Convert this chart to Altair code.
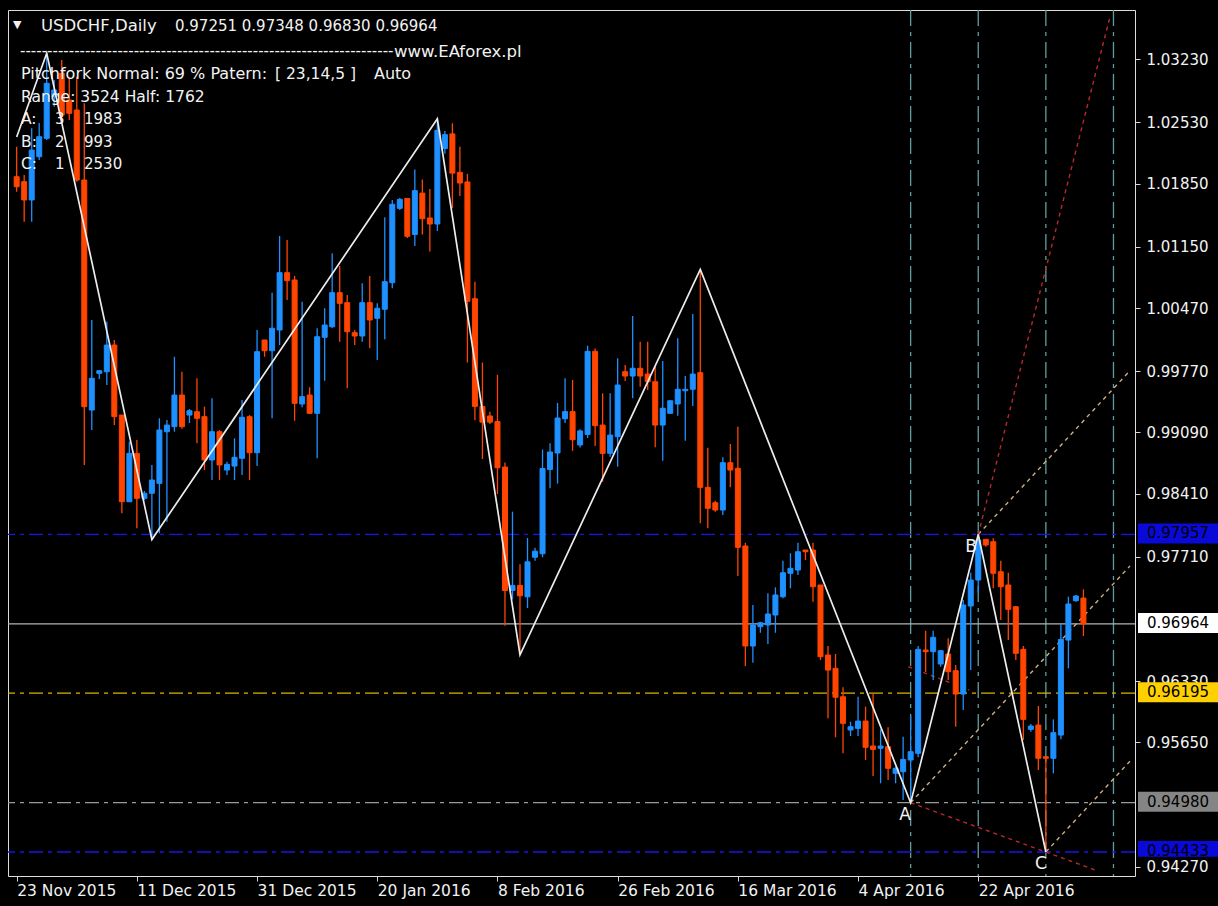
import altair as alt
import pandas as pd

# ---------------- data ----------------
opens = [1.01927,1.01872,1.01669,1.02149,1.02353,1.02815,1.03075,1.02778,1.02667,1.01890,
         0.99338,0.99745,0.99763,1.00059,0.99282,0.98320,0.98857,0.98358,0.98414,0.98524,
         0.99097,0.99153,0.99504,0.99282,0.99319,0.99264,0.98783,0.99097,0.98672,0.98716,
         0.98802,0.99264,0.98864,1.00115,0.99996,1.00226,1.00862,1.00781,0.99405,0.99504,
         0.99301,1.00145,1.00262,1.00640,1.00529,1.00196,1.00159,1.00529,1.00356,1.00456,
         1.00751,1.01576,1.01686,1.01286,1.01745,1.01469,1.01402,1.02239,1.02402,1.01975,
         1.01869,1.00573,0.99378,0.99272,0.99210,0.98705,0.97335,0.97392,0.97265,0.97704,
         0.97743,0.98678,0.98861,0.99241,0.99320,0.98950,0.99067,0.99989,0.99171,0.98857,
         0.99042,0.99763,0.99715,0.99801,0.99737,0.99652,0.99171,0.99301,0.99405,0.99552,
         0.99568,0.99752,0.98480,0.98309,0.98228,0.98753,0.98691,0.97829,0.96719,0.96933,
         0.96952,0.97063,0.97266,0.97526,0.97562,0.97784,0.97784,0.97396,0.96619,0.96471,
         0.96156,0.95787,0.95805,0.95886,0.95609,0.95584,0.95601,0.95306,0.95324,0.95454,
         0.95528,0.96674,0.96656,0.96519,0.96630,0.96445,0.96186,0.97163,0.97451,0.97903,
         0.97876,0.97543,0.97396,0.97155,0.96682,0.95794,0.95842,0.95490,0.95473,0.95731,
         0.96785,0.97222,0.97251]
highs = [1.02260,1.01946,1.02464,1.02523,1.03297,1.03000,1.03222,1.03037,1.03037,1.02742,
         1.00337,0.99782,1.00318,1.00115,0.99282,0.98986,0.99005,0.98439,0.98728,0.99246,
         0.99227,0.99929,0.99763,0.99349,0.99690,0.99375,0.99468,0.99116,0.98764,0.99024,
         0.99449,0.99282,1.00226,1.00115,1.00640,1.01269,1.01225,1.00825,1.00540,0.99590,
         1.00245,1.00467,1.01077,1.00936,1.00614,1.00226,1.00744,1.00825,1.00522,1.01477,
         1.01669,1.01691,1.01686,1.02006,1.01897,1.01792,1.02570,1.02434,1.02520,1.02259,
         1.01959,1.00760,0.99865,0.99320,0.99729,0.98755,0.98210,0.97627,0.97918,0.97810,
         0.98900,0.98970,0.99417,0.99690,0.99671,0.99125,1.00052,1.00020,0.99523,0.99523,
         0.99912,0.99837,1.00381,1.00096,1.00096,0.99818,0.99882,0.99441,1.00134,0.99715,
         1.00403,1.00899,0.98920,0.98331,0.98813,0.98961,0.99153,0.97865,0.97174,0.96988,
         0.97304,0.97370,0.97665,0.97748,0.97865,0.97784,0.97865,0.97396,0.96719,0.96630,
         0.96260,0.95879,0.96156,0.96045,0.96201,0.95794,0.95817,0.95379,0.95712,0.95942,
         0.96719,0.96889,0.96889,0.96674,0.96804,0.96508,0.97229,0.97532,0.97957,0.97903,
         0.97914,0.97665,0.97532,0.97163,0.96719,0.95853,0.96053,0.95490,0.95905,0.96963,
         0.97266,0.97285,0.97348]
lows = [1.01761,1.01428,1.01428,1.02112,1.02334,1.02704,1.02520,1.02556,1.01872,0.98728,
        0.99116,0.99682,0.99615,0.99171,0.98192,0.98320,0.98025,0.98339,0.97900,0.97970,
        0.98098,0.99097,0.99130,0.99194,0.98968,0.98672,0.98561,0.98561,0.98617,0.98561,
        0.98617,0.98561,0.98716,0.99929,0.99246,1.00059,1.00559,0.99219,0.99368,0.99301,
        0.98802,0.99663,1.00245,1.00096,0.99579,1.00059,1.00096,1.00023,0.99893,1.00123,
        1.00689,1.01558,1.01247,1.01157,1.01286,1.01098,1.01325,1.02181,1.01578,1.01714,
        0.99865,0.99223,0.98794,0.99184,0.98405,0.96945,0.97237,0.96620,0.97141,0.97666,
        0.97704,0.98471,0.98521,0.99195,0.98884,0.98923,0.99027,0.98938,0.98542,0.98820,
        0.98709,0.99660,0.99468,0.99597,0.99560,0.98924,0.98775,0.99301,0.99275,0.98998,
        0.99382,0.98081,0.98025,0.98209,0.98173,0.98480,0.97496,0.96497,0.96534,0.96866,
        0.96741,0.96866,0.97248,0.97359,0.97507,0.97673,0.97210,0.96563,0.95916,0.95706,
        0.95528,0.95720,0.95720,0.95454,0.95276,0.95195,0.95232,0.95195,0.95010,0.94980,
        0.95484,0.96431,0.96342,0.96489,0.96342,0.95823,0.96009,0.96452,0.97310,0.97821,
        0.97359,0.97007,0.96785,0.96563,0.95676,0.95768,0.95343,0.94433,0.95306,0.95683,
        0.96471,0.97210,0.96830]
closes = [1.01816,1.01669,1.02223,1.02371,1.02964,1.02889,1.02612,1.02631,1.01890,0.99375,
          0.99690,0.99774,1.00059,0.99264,0.98320,0.98857,0.98358,0.98414,0.98561,0.99116,
          0.99171,0.99504,0.99153,0.99330,0.99246,0.98783,0.99097,0.98728,0.98735,0.98813,
          0.99257,0.98864,0.99985,0.99996,1.00245,1.00862,1.00773,0.99412,0.99486,0.99301,
          1.00151,1.00281,1.00640,1.00522,1.00207,1.00159,1.00529,1.00337,1.00467,1.00762,
          1.01621,1.01676,1.01266,1.01772,1.01461,1.01402,1.02442,1.02394,1.01967,1.01857,
          1.00545,0.99378,0.99203,0.99203,0.98697,0.97335,0.97392,0.97276,0.97653,0.97771,
          0.98689,0.98872,0.99249,0.99320,0.99008,0.99106,0.99989,0.99164,0.98857,0.99060,
          0.99615,0.99715,0.99801,0.99715,0.99652,0.99171,0.99357,0.99441,0.99568,0.99568,
          0.99737,0.98480,0.98247,0.98228,0.98753,0.98672,0.97814,0.96719,0.96952,0.96977,
          0.97074,0.97285,0.97532,0.97581,0.97765,0.97765,0.97377,0.96600,0.96452,0.96150,
          0.95861,0.95823,0.95886,0.95595,0.95572,0.95609,0.95362,0.95362,0.95461,0.95546,
          0.96682,0.96656,0.96815,0.96667,0.96434,0.96186,0.97174,0.97451,0.97895,0.97840,
          0.97526,0.97377,0.97126,0.96638,0.95905,0.95831,0.95473,0.95473,0.95757,0.96793,
          0.97185,0.97274,0.96964]

date_ticks = [0, 16, 32, 48, 64, 80, 96, 112, 128]
date_labels = ["23 Nov 2015", "11 Dec 2015", "31 Dec 2015", "20 Jan 2016", "8 Feb 2016",
               "26 Feb 2016", "16 Mar 2016", "4 Apr 2016", "22 Apr 2016"]
price_ticks = [1.0323, 1.0253, 1.0185, 1.0115, 1.0047, 0.9977, 0.9909, 0.9841, 0.9771,
               0.9633, 0.9565, 0.9427]

zz_bar = [0, 4, 18, 56, 67, 91, 119, 128, 137]
zz_price = [1.02368, 1.03297, 0.97900, 1.02570, 0.96620, 1.00899, 0.94980, 0.97957, 0.94433]

vline_bars = [119, 128, 137, 146]

hl_price = [0.97957, 0.96964, 0.96195, 0.94980, 0.94433]
hl_color = ["#1414ee", "#b4b4b4", "#dcb400", "#9a9a9a", "#1414ee"]
hl_style = ["dash", "solid", "dash", "dash", "dash"]
box_fill = ["#0a0ad8", "#ffffff", "#ffd000", "#858585", "#0a0ad8"]
box_text = ["0.97957", "0.96964", "0.96195", "0.94980", "0.94433"]
box_cut = [False, False, False, False, True]

fork_id = ["A", "A", "B", "B", "C", "C"]
fork_bar = [119, 148.2, 128, 148.2, 137, 148.2]
fork_price = [0.94980, 0.97608, 0.97957, 0.99775, 0.94433, 0.95441]

red_id = ["AC", "AC", "BU", "BU", "M", "M"]
red_bar = [119, 143.5, 128, 145.6, 118.7, 126.8]
red_price = [0.94980, 0.94235, 0.97957, 1.03722, 0.96489, 0.96231]

# ---------------- layout ----------------
PAD_L, PAD_T, PAD_R, PAD_B = 8, 10, 83, 30
W, H = 1127, 866
FONT = "DejaVu Sans"
TXT = "#f2f2f2"
UP, DOWN = "#1e90ff", "#ff4500"

XS = alt.Scale(domain=[-0.488, 148.2], nice=False, zero=False)
YS = alt.Scale(domain=[0.941666, 1.037771], nice=False, zero=False)

df = pd.DataFrame({"i": list(range(len(opens))), "o": opens, "h": highs, "l": lows, "c": closes})
df["dir"] = ["up" if c >= o else "down" for o, c in zip(opens, closes)]
color = alt.Color("dir:N", scale=alt.Scale(domain=["up", "down"], range=[UP, DOWN]), legend=None)

labels_js = "[" + ",".join("'%s'" % s for s in date_labels) + "]"
ticks_js = "[" + ",".join(str(t) for t in date_ticks) + "]"

X_AXIS = alt.Axis(orient="bottom", values=date_ticks,
                  labelExpr="%s[indexof(%s, datum.value)]" % (labels_js, ticks_js),
                  labelAlign="left", labelBaseline="top", labelColor=TXT, labelFont=FONT,
                  labelFontSize=15.5, labelPadding=2, tickColor="#d8d8d8", tickSize=5,
                  domain=False, grid=False, title=None, labelFlush=False, labelOverlap=False)
Y_AXIS = alt.Axis(orient="right", values=price_ticks, format=".5f", labelColor=TXT,
                  labelFont=FONT, labelFontSize=15, labelPadding=6, tickColor="#d8d8d8",
                  tickSize=5, domain=False, grid=False, title=None, labelOverlap=False,
                  labelFlush=False, labelBaseline="middle")


def X(f):
    return alt.X(f, scale=XS, axis=X_AXIS)


def Y(f):
    return alt.Y(f, scale=YS, axis=Y_AXIS)


# vertical dashed lines
vl = alt.Chart(pd.DataFrame({"i": vline_bars})).mark_rule(
    color="#5f9ea0", strokeWidth=1.3, strokeDash=[16, 6, 4, 6]
).encode(x=X("i:Q"))

# horizontal lines
hdf = pd.DataFrame({"p": hl_price, "col": hl_color, "sty": hl_style})
hl = alt.Chart(hdf).mark_rule(strokeWidth=1.3).encode(
    y=Y("p:Q"),
    color=alt.Color("col:N", scale=None),
    strokeDash=alt.StrokeDash("sty:N", scale=alt.Scale(domain=["dash", "solid"],
                                                        range=[[14, 5, 4, 5], [1, 0]]), legend=None),
)

# pitchfork tines
fork = alt.Chart(pd.DataFrame({"id": fork_id, "i": fork_bar, "p": fork_price})).mark_line(
    color="#cdae82", strokeWidth=1.4, strokeDash=[4, 4], clip=True
).encode(x=X("i:Q"), y=Y("p:Q"), detail="id:N")

reds = alt.Chart(pd.DataFrame({"id": red_id, "i": red_bar, "p": red_price})).mark_line(
    color="#b8282a", strokeWidth=1.4, strokeDash=[4, 4], clip=True
).encode(x=X("i:Q"), y=Y("p:Q"), detail="id:N")

# candles
wicks = alt.Chart(df).mark_rule(strokeWidth=1.3).encode(
    x=X("i:Q"), y=Y("l:Q"), y2="h:Q", color=color,
)
bodies = alt.Chart(df).mark_bar(size=5, strokeWidth=1).encode(
    x=X("i:Q"), y=Y("o:Q"), y2="c:Q", color=color, stroke=color,
)

zig = alt.Chart(pd.DataFrame({"i": zz_bar, "p": zz_price})).mark_line(
    color="#ececec", strokeWidth=1.7, clip=True
).encode(x=X("i:Q"), y=Y("p:Q"), order="i:Q")

# price label boxes on the axis
bdf = pd.DataFrame({"p": hl_price, "fill": box_fill, "t": box_text, "cut": box_cut})
boxes_full = alt.Chart(bdf[~bdf["cut"]]).mark_point(
    shape="M-1,-0.275L1,-0.275L1,0.225L-1,0.225Z", size=6400, filled=True, opacity=1, strokeWidth=0
).encode(x=alt.value(1178 - PAD_L), y=Y("p:Q"), fill=alt.Fill("fill:N", scale=None))
boxes_cut = alt.Chart(bdf[bdf["cut"]]).mark_point(
    shape="M-1,-0.275L1,-0.275L1,0.12L-1,0.12Z", size=6400, filled=True, opacity=1, strokeWidth=0
).encode(x=alt.value(1178 - PAD_L), y=Y("p:Q"), fill=alt.Fill("fill:N", scale=None))
box_txt = alt.Chart(bdf).mark_text(
    align="left", baseline="middle", font=FONT, fontSize=15, color="#000000", dy=-1
).encode(x=alt.value(1147 - PAD_L), y=Y("p:Q"), text="t:N")

# text annotations (text, x px, y px, size, align)
NB = "\u00a0"
notes = [
    ("\u25bc", 13, 25, 11, "left"),
    ("USDCHF,Daily", 41, 26, 16.5, "left"),
    ("0.97251 0.97348 0.96830 0.96964", 175, 26, 15, "left"),
    ("-" * 69, 20, 51, 15, "left"),
    ("www.EAforex.pl", 394, 52, 16.5, "left"),
    ("Pitchfork Normal: 69 % Patern:", 21, 74, 16, "left"),
    ("[" + NB + "23,14,5" + NB + "]", 275, 74, 15.5, "left"),
    ("Auto", 374, 74, 16, "left"),
    ("Range: 3524 Half: 1762", 21, 97, 15.5, "left"),
    ("A:", 21, 119, 15.5, "left"), ("3", 55, 119, 15, "left"), ("1983", 84, 119, 15, "left"),
    ("B:", 21, 142, 15.5, "left"), ("2", 55, 142, 15, "left"), ("993", 84, 142, 15, "left"),
    ("C:", 21, 164, 15.5, "left"), ("1", 55, 164, 15, "left"), ("2530", 84, 164, 15, "left"),
    ("A", 905, 815, 17, "center"),
    ("B", 971, 547, 17, "center"),
    ("C", 1041, 864, 17, "center"),
]
text_layers = []
for t, px, py, sz, al in notes:
    text_layers.append(
        alt.Chart(pd.DataFrame({"t": [t]})).mark_text(
            align=al, baseline="middle", font=FONT, fontSize=sz, color=TXT
        ).encode(x=alt.value(px - PAD_L), y=alt.value(py - PAD_T), text="t:N")
    )

chart = alt.layer(vl, hl, fork, reds, wicks, bodies, zig, boxes_full, boxes_cut, box_txt,
                  *text_layers).properties(
    width=W, height=H,
    autosize=alt.AutoSizeParams(type="none"),
    padding={"left": PAD_L, "top": PAD_T, "right": PAD_R, "bottom": PAD_B},
    background="#000000",
).configure_view(stroke="#d8d8d8", strokeWidth=1.2, fill="#000000").configure(font=FONT)

chart.save("out.html", embed_options={"renderer": "svg", "actions": False})
